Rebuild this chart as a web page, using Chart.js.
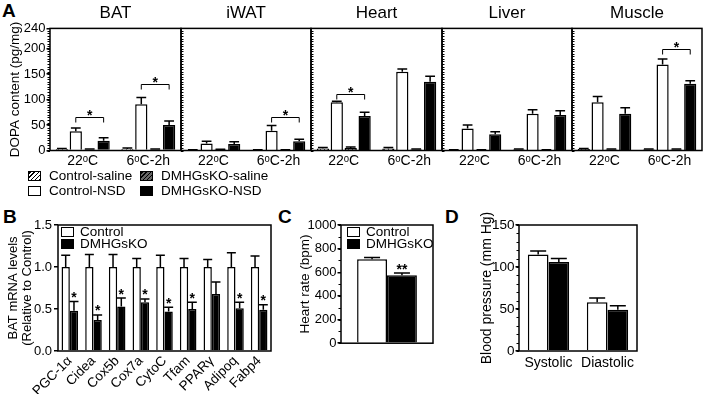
<!DOCTYPE html>
<html lang="en">
<head>
  <meta charset="UTF-8">
  <title>DOPA content, BAT mRNA, heart rate and blood pressure</title>
  <style>
    body {
      margin: 0;
      width: 703px;
      height: 394px;
      position: relative;
      overflow: hidden;
      background: #fff;
      color: #000;
      font-family: 'Liberation Sans', Arial, sans-serif;
    }
    canvas { position: absolute; }
    .letter {
      position: absolute;
      font-weight: bold;
      font-size: 19px;
      line-height: 19px;
    }
    .lg {
      position: absolute;
      font-size: 13.5px;
      white-space: nowrap;
    }
    .sw {
      display: inline-block;
      width: 13px;
      height: 10px;
      border: 1.5px solid #000;
      box-sizing: border-box;
      vertical-align: -1px;
    }
    .hatch-w { background: repeating-linear-gradient(-45deg, #000 0 1px, #fff 1px 3px); }
    .hatch-g { background: repeating-linear-gradient(-45deg, #000 0 1px, #666 1px 3px); }
  </style>
</head>
<body>
  <div class="letter" style="left:2px;top:1px">A</div>
  <div class="letter" style="left:3px;top:207px">B</div>
  <div class="letter" style="left:278px;top:207px">C</div>
  <div class="letter" style="left:445px;top:207px">D</div>

  <canvas id="a0" width="182" height="170" style="left:0;top:0"></canvas>
  <canvas id="a1" width="132" height="170" style="left:180px;top:0"></canvas>
  <canvas id="a2" width="133" height="170" style="left:310px;top:0"></canvas>
  <canvas id="a3" width="132" height="170" style="left:441px;top:0"></canvas>
  <canvas id="a4" width="132" height="170" style="left:571px;top:0"></canvas>

  <div class="lg" style="left:28px;top:168px;line-height:15px">
    <div><span class="sw hatch-w" style="margin-right:8px"></span>Control-saline</div>
    <div><span class="sw" style="background:#fff;margin-right:8px"></span>Control-NSD</div>
  </div>
  <div class="lg" style="left:140px;top:168px;line-height:15px">
    <div><span class="sw hatch-g" style="margin-right:8px"></span>DMHGsKO-saline</div>
    <div><span class="sw" style="background:#000;margin-right:8px"></span>DMHGsKO-NSD</div>
  </div>

  <canvas id="b" width="273" height="194" style="left:0;top:200px"></canvas>
  <canvas id="c" width="143" height="152" style="left:292px;top:200px"></canvas>
  <canvas id="d" width="170" height="194" style="left:470px;top:200px"></canvas>

  <div class="lg" style="left:61px;top:226px;line-height:12px">
    <div><span class="sw" style="background:#fff;margin-right:6px"></span>Control</div>
    <div><span class="sw" style="background:#000;margin-right:6px"></span>DMHGsKO</div>
  </div>
  <div class="lg" style="left:347px;top:226px;line-height:12px">
    <div><span class="sw" style="background:#fff;margin-right:6px"></span>Control</div>
    <div><span class="sw" style="background:#000;margin-right:6px"></span>DMHGsKO</div>
  </div>

  <script src="https://cdn.jsdelivr.net/npm/chart.js"></script>
  <script>
    // panel A : DOPA content (pg/mg), one entry per tissue, [22C, 6C-2h]
    const tempLabels = ['22ᵒC', '6ᵒC-2h'];
    const tissues = ['BAT', 'iWAT', 'Heart', 'Liver', 'Muscle'];
    const ctrlSaline    = [[3, 3], [1, 1], [4, 4], [1, 2], [3, 2]];
    const ctrlSalineErr = [[1, 2], [0.5, 0.5], [2, 2], [0.5, 1], [1, 1]];
    const ctrlNSD       = [[38, 91], [14, 39], [95, 155], [43, 72], [95, 169]];
    const ctrlNSDErr    = [[6, 13], [4, 10], [2, 5], [7, 8], [11, 11]];
    const koSaline      = [[2, 2], [2, 1], [5, 2], [1, 1], [2, 2]];
    const koSalineErr   = [[1, 1], [0.5, 0.5], [2, 1], [0.5, 0.5], [1, 1]];
    const koNSD         = [[19, 50], [13, 18], [68, 135], [32, 70], [72, 131]];
    const koNSDErr      = [[6, 8], [4, 4], [7, 11], [5, 8], [12, 6]];
    // significance brackets [category, level]
    const dopaSig = [[[0, 66], [1, 130]], [[1, 66]], [[0, 112]], [], [[1, 199]]];

    // panel B : BAT mRNA levels
    const genes = ['PGC-1α', 'Cidea', 'Cox5b', 'Cox7a', 'CytoC', 'Tfam', 'PPARγ', 'Adipoq', 'Fabp4'];
    const mrnaCtrl    = [1, 1, 1, 1, 1, 1, 1, 1, 1];
    const mrnaCtrlErr = [0.14, 0.15, 0.15, 0.1, 0.14, 0.1, 0.09, 0.17, 0.13];
    const mrnaKO      = [0.48, 0.37, 0.53, 0.58, 0.47, 0.5, 0.68, 0.51, 0.49];
    const mrnaKOErr   = [0.11, 0.06, 0.1, 0.04, 0.05, 0.08, 0.14, 0.07, 0.06];
    const mrnaStar    = [true, true, true, true, true, true, false, true, true];

    // panel C : heart rate (bpm)
    const hrCtrl = [710], hrCtrlErr = [15];
    const hrKO = [575], hrKOErr = [18];

    // panel D : blood pressure (mm Hg)
    const bpLabels = ['Systolic', 'Diastolic'];
    const bpCtrl = [115, 58], bpCtrlErr = [4, 5];
    const bpKO = [106, 49], bpKOErr = [4, 5];

    Chart.defaults.font.family = "'Liberation Sans', Arial, sans-serif";
    Chart.defaults.color = '#000';

    function hatch(bg) {
      const c = document.createElement('canvas');
      c.width = c.height = 4;
      const g = c.getContext('2d');
      g.fillStyle = bg;
      g.fillRect(0, 0, 4, 4);
      g.strokeStyle = '#000';
      g.lineWidth = 1;
      g.beginPath();
      g.moveTo(0, 4); g.lineTo(4, 0);
      g.moveTo(-1, 1); g.lineTo(1, -1);
      g.moveTo(3, 5); g.lineTo(5, 3);
      g.stroke();
      return g.createPattern(c, 'repeat');
    }
    const hatchWhite = hatch('#fff');
    const hatchGrey = hatch('#666');

    const frame = {
      id: 'frame',
      afterDatasetsDraw(chart) {
        const {ctx, chartArea: a} = chart;
        ctx.save();
        ctx.strokeStyle = '#000';
        ctx.lineWidth = 1.5;
        ctx.strokeRect(a.left, a.top, a.right - a.left, a.bottom - a.top);
        ctx.restore();
      }
    };

    const minorTicks = {
      id: 'minorTicks',
      afterDraw(chart, args, opts) {
        if (!opts.step) return;
        const {ctx} = chart;
        const y = chart.scales.y;
        const x0 = chart.chartArea.left;
        const dir = opts.inside ? 1 : -1;
        ctx.save();
        ctx.strokeStyle = '#000';
        ctx.lineWidth = 1;
        ctx.beginPath();
        for (let v = y.min; v <= y.max + 1e-9; v += opts.step) {
          const py = Math.round(y.getPixelForValue(v)) + 0.5;
          ctx.moveTo(x0, py);
          ctx.lineTo(x0 + dir * 2.5, py);
        }
        ctx.stroke();
        ctx.restore();
      }
    };

    const errorBars = {
      id: 'errorBars',
      afterDatasetsDraw(chart) {
        const {ctx} = chart;
        const y = chart.scales.y;
        ctx.save();
        ctx.strokeStyle = '#000';
        ctx.lineWidth = 1.5;
        chart.data.datasets.forEach((ds, i) => {
          if (!ds.errors) return;
          chart.getDatasetMeta(i).data.forEach((bar, j) => {
            const e = ds.errors[j];
            if (!e) return;
            const top = y.getPixelForValue(ds.data[j] + e);
            const cap = Math.min(Math.max(bar.width * 0.4, 4.5), 8);
            ctx.beginPath();
            ctx.moveTo(bar.x, bar.y);
            ctx.lineTo(bar.x, top);
            ctx.moveTo(bar.x - cap, top);
            ctx.lineTo(bar.x + cap, top);
            ctx.stroke();
          });
        });
        ctx.restore();
      }
    };

    const sig = {
      id: 'sig',
      afterDraw(chart, args, opts) {
        const {ctx} = chart;
        const y = chart.scales.y;
        ctx.save();
        ctx.strokeStyle = '#000';
        ctx.fillStyle = '#000';
        ctx.lineWidth = 1;
        ctx.font = 'bold 14px "Liberation Sans", Arial, sans-serif';
        ctx.textAlign = 'center';
        ctx.textBaseline = 'alphabetic';
        (opts.brackets || []).forEach(b => {
          const x1 = chart.getDatasetMeta(b.a).data[b.cat].x;
          const x2 = chart.getDatasetMeta(b.b).data[b.cat].x;
          const py = Math.round(y.getPixelForValue(b.y)) + 0.5;
          ctx.beginPath();
          ctx.moveTo(x1, py + 5);
          ctx.lineTo(x1, py);
          ctx.lineTo(x2, py);
          ctx.lineTo(x2, py + 5);
          ctx.stroke();
          ctx.fillText('*', (x1 + x2) / 2, py + 2);
        });
        (opts.stars || []).forEach(s => {
          const ds = chart.data.datasets[s.ds];
          const bar = chart.getDatasetMeta(s.ds).data[s.idx];
          const top = y.getPixelForValue(ds.data[s.idx] + (ds.errors ? ds.errors[s.idx] : 0));
          ctx.fillText(s.text, bar.x, top + 0.5);
        });
        ctx.restore();
      }
    };

    function barSet(label, data, errors, color, cat, bar) {
      return {
        label, data, errors,
        backgroundColor: color,
        borderColor: '#000',
        borderWidth: 1.5,
        categoryPercentage: cat,
        barPercentage: bar
      };
    }

    // panel A, one chart per tissue
    tissues.forEach((name, i) => {
      const first = i === 0;
      new Chart(document.getElementById('a' + i), {
        type: 'bar',
        data: {
          labels: tempLabels,
          datasets: [
            barSet('Control-saline', ctrlSaline[i], ctrlSalineErr[i], hatchWhite, 0.85, 0.88),
            barSet('Control-NSD', ctrlNSD[i], ctrlNSDErr[i], '#fff', 0.85, 0.88),
            barSet('DMHGsKO-saline', koSaline[i], koSalineErr[i], hatchGrey, 0.85, 0.88),
            barSet('DMHGsKO-NSD', koNSD[i], koNSDErr[i], '#000', 0.85, 0.88)
          ]
        },
        options: {
          responsive: false,
          animation: false,
          layout: { padding: { top: 0, left: first ? 0 : 1, right: 1 } },
          plugins: {
            legend: { display: false },
            tooltip: { enabled: false },
            title: {
              display: true, text: name, fullSize: false,
              font: { size: 17, weight: 'normal' },
              padding: { top: 3, bottom: 5 }
            },
            minorTicks: { step: 5, inside: !first },
            sig: { brackets: dopaSig[i].map(([c, v]) => ({ cat: c, a: 1, b: 3, y: v })) }
          },
          scales: {
            x: {
              grid: { display: false, drawTicks: false },
              border: { display: false },
              ticks: { font: { size: 14 }, padding: 2 },
              afterFit: s => { s.height = 19.5; }
            },
            y: {
              min: 0, max: 240,
              ticks: { display: first, stepSize: 50, font: { size: 13 }, padding: 1 },
              grid: { display: first, drawOnChartArea: false, tickLength: 3.5, color: '#000', lineWidth: 1.5 },
              border: { display: false },
              title: {
                display: first, text: 'DOPA content (pg/mg)',
                font: { size: 13.5 }, padding: { top: 6.9 }
              },
              afterFit: s => { s.width = first ? 50 : 0; }
            }
          }
        },
        plugins: [errorBars, frame, minorTicks, sig]
      });
    });

    // panel B
    new Chart(document.getElementById('b'), {
      type: 'bar',
      data: {
        labels: genes,
        datasets: [
          barSet('Control', mrnaCtrl, mrnaCtrlErr, '#fff', 0.7, 1),
          barSet('DMHGsKO', mrnaKO, mrnaKOErr, '#000', 0.7, 1)
        ]
      },
      options: {
        responsive: false,
        animation: false,
        layout: { padding: { top: 25, right: 2 } },
        plugins: {
          legend: { display: false },
          tooltip: { enabled: false },
          sig: { stars: mrnaStar.map((s, j) => s ? { ds: 1, idx: j, text: '*' } : null).filter(Boolean) }
        },
        scales: {
          x: {
            grid: { display: false, drawTicks: false },
            border: { display: false },
            ticks: { font: { size: 13.5 }, minRotation: 45, maxRotation: 45, autoSkip: false, padding: 2 },
            afterFit: s => { s.height = 43; }
          },
          y: {
            min: 0, max: 1.5,
            ticks: { stepSize: 0.5, font: { size: 13 }, padding: 2, callback: v => v.toFixed(1) },
            grid: { drawOnChartArea: false, tickLength: 4, color: '#000', lineWidth: 1.5 },
            border: { display: false },
            title: {
              display: true, text: ['BAT mRNA levels', '(Relative to Control)'],
              font: { size: 13, lineHeight: 1.05 }, padding: { top: 7 }
            },
            afterFit: s => { s.width = 58; }
          }
        }
      },
      plugins: [errorBars, frame, sig]
    });

    // panel C
    new Chart(document.getElementById('c'), {
      type: 'bar',
      data: {
        labels: [''],
        datasets: [
          barSet('Control', hrCtrl, hrCtrlErr, '#fff', 0.65, 1),
          barSet('DMHGsKO', hrKO, hrKOErr, '#000', 0.65, 1)
        ]
      },
      options: {
        responsive: false,
        animation: false,
        layout: { padding: { top: 25, right: 2, bottom: 1 } },
        plugins: {
          legend: { display: false },
          tooltip: { enabled: false },
          minorTicks: { step: 100, inside: false },
          sig: { stars: [{ ds: 1, idx: 0, text: '**' }] }
        },
        scales: {
          x: { display: false },
          y: {
            min: 0, max: 1000,
            ticks: { stepSize: 200, font: { size: 13 }, padding: 1, callback: v => String(v) },
            grid: { drawOnChartArea: false, tickLength: 3.5, color: '#000', lineWidth: 1.5 },
            border: { display: false },
            title: { display: true, text: 'Heart rate (bpm)', font: { size: 13.5 }, padding: { top: 4.9 } },
            afterFit: s => { s.width = 49; }
          }
        }
      },
      plugins: [errorBars, frame, minorTicks, sig]
    });

    // panel D
    new Chart(document.getElementById('d'), {
      type: 'bar',
      data: {
        labels: bpLabels,
        datasets: [
          barSet('Control', bpCtrl, bpCtrlErr, '#fff', 0.7, 1),
          barSet('DMHGsKO', bpKO, bpKOErr, '#000', 0.7, 1)
        ]
      },
      options: {
        responsive: false,
        animation: false,
        layout: { padding: { top: 25, right: 3 } },
        plugins: {
          legend: { display: false },
          tooltip: { enabled: false },
          minorTicks: { step: 10, inside: false }
        },
        scales: {
          x: {
            grid: { display: false, drawTicks: false },
            border: { display: false },
            ticks: { font: { size: 14 }, padding: 4 },
            afterFit: s => { s.height = 43; }
          },
          y: {
            min: 0, max: 150,
            ticks: { stepSize: 50, font: { size: 13.5 }, padding: 1 },
            grid: { drawOnChartArea: false, tickLength: 3.5, color: '#000', lineWidth: 1.5 },
            border: { display: false },
            title: { display: true, text: 'Blood pressure (mm Hg)', font: { size: 14 }, padding: { top: 8.6 } },
            afterFit: s => { s.width = 49; }
          }
        }
      },
      plugins: [errorBars, frame, minorTicks]
    });
  </script>
</body>
</html>
